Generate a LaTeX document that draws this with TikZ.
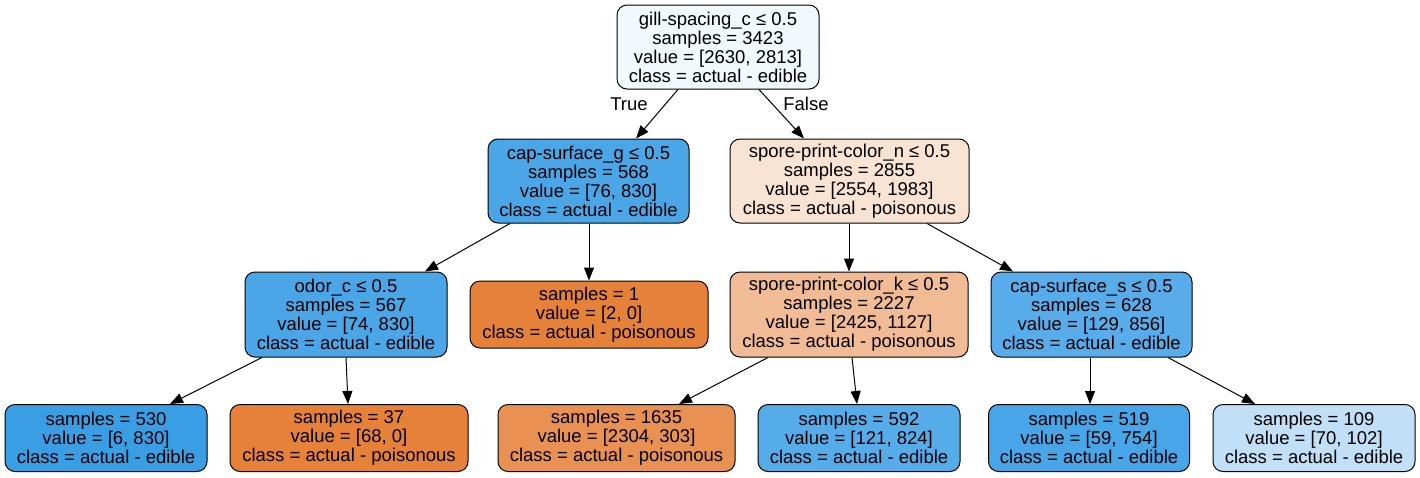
\documentclass[tikz,border=0pt]{standalone}
\usepackage{fontspec}
\setmainfont{Liberation Sans}
\usetikzlibrary{arrows.meta,calc}
\definecolor{cRoot}{RGB}{242,249,253}
\definecolor{cCapG}{RGB}{75,166,231}
\definecolor{cSporeN}{RGB}{249,227,211}
\definecolor{cOdor}{RGB}{75,166,231}
\definecolor{cOrange}{RGB}{229,129,57}
\definecolor{cSporeK}{RGB}{241,187,149}
\definecolor{cCapS}{RGB}{87,172,233}
\definecolor{cL530}{RGB}{58,158,229}
\definecolor{cL1635}{RGB}{232,145,83}
\definecolor{cL592}{RGB}{86,171,233}
\definecolor{cL519}{RGB}{72,165,231}
\definecolor{cL109}{RGB}{193,224,247}
\tikzset{
  treenode/.style={draw=black, line width=1pt, rounded corners=10pt, align=center,
    inner sep=0pt, font=\fontsize{18.5}{19}\selectfont},
  edge/.style={draw=black, line width=1pt, -{Triangle[length=13pt,width=10pt]}},
  lbl/.style={font=\fontsize{18.5}{19}\selectfont, inner sep=0pt}
}
\begin{document}
\begin{tikzpicture}[x=1pt,y=-1pt]
\useasboundingbox (0,0) rectangle (1420,477);
\node[treenode, fill=cRoot, minimum width=202pt, minimum height=84pt] (root) at (718,47)
  {gill-spacing\_c ≤ 0.5\\samples = 3423\\value = [2630, 2813]\\class = actual - edible};
\node[treenode, fill=cCapG, minimum width=201pt, minimum height=84pt] (capg) at (588.5,181)
  {cap-surface\_g ≤ 0.5\\samples = 568\\value = [76, 830]\\class = actual - edible};
\node[treenode, fill=cSporeN, minimum width=239pt, minimum height=84pt] (sporen) at (849.5,181)
  {spore-print-color\_n ≤ 0.5\\samples = 2855\\value = [2554, 1983]\\class = actual - poisonous};
\node[treenode, fill=cOdor, minimum width=202pt, minimum height=85pt] (odor) at (346,314.5)
  {odor\_c ≤ 0.5\\samples = 567\\value = [74, 830]\\class = actual - edible};
\node[treenode, fill=cOrange, minimum width=238pt, minimum height=67pt] (s1) at (589,314.5)
  {samples = 1\\value = [2, 0]\\class = actual - poisonous};
\node[treenode, fill=cSporeK, minimum width=238pt, minimum height=85pt] (sporek) at (849,314.5)
  {spore-print-color\_k ≤ 0.5\\samples = 2227\\value = [2425, 1127]\\class = actual - poisonous};
\node[treenode, fill=cCapS, minimum width=201pt, minimum height=85pt] (caps) at (1091.5,314.5)
  {cap-surface\_s ≤ 0.5\\samples = 628\\value = [129, 856]\\class = actual - edible};
\node[treenode, fill=cL530, minimum width=202pt, minimum height=67pt] (l530) at (106,438)
  {samples = 530\\value = [6, 830]\\class = actual - edible};
\node[treenode, fill=cOrange, minimum width=238pt, minimum height=67pt] (l37) at (349,438)
  {samples = 37\\value = [68, 0]\\class = actual - poisonous};
\node[treenode, fill=cL1635, minimum width=237pt, minimum height=67pt] (l1635) at (616.5,438)
  {samples = 1635\\value = [2304, 303]\\class = actual - poisonous};
\node[treenode, fill=cL592, minimum width=202pt, minimum height=67pt] (l592) at (859,438)
  {samples = 592\\value = [121, 824]\\class = actual - edible};
\node[treenode, fill=cL519, minimum width=201pt, minimum height=67pt] (l519) at (1089,438)
  {samples = 519\\value = [59, 754]\\class = actual - edible};
\node[treenode, fill=cL109, minimum width=202pt, minimum height=67pt] (l109) at (1314,438)
  {samples = 109\\value = [70, 102]\\class = actual - edible};
% edges
\draw[edge] ($(root.south)+(-40,0)$) -- ($(capg.north)+(47.5,0)$);
\draw[edge] ($(root.south)+(41,0)$) -- ($(sporen.north)+(-45.5,0)$);
\draw[edge] ($(capg.south)+(-78.5,0)$) -- ($(odor.north)+(79,0)$);
\draw[edge] ($(capg.south)+(0.5,0)$) -- ($(s1.north)+(0,0)$);
\draw[edge] ($(sporen.south)+(-0.5,0)$) -- ($(sporek.north)+(0,0)$);
\draw[edge] ($(sporen.south)+(77.5,0)$) -- ($(caps.north)+(-78.5,0)$);
\draw[edge] ($(odor.south)+(-84,0)$) -- ($(l530.north)+(64,0)$);
\draw[edge] ($(odor.south)+(0,0)$) -- ($(l37.north)+(-1,0)$);
\draw[edge] ($(sporek.south)+(-81,0)$) -- ($(l1635.north)+(62.5,0)$);
\draw[edge] ($(sporek.south)+(3,0)$) -- ($(l592.north)+(-2,0)$);
\draw[edge] ($(caps.south)+(-1.5,0)$) -- ($(l519.north)+(1,0)$);
\draw[edge] ($(caps.south)+(76.5,0)$) -- ($(l109.north)+(-59,0)$);
\node[lbl] (ltrue) at (629,104) {True};
\node[lbl] (lfalse) at (806,104) {False};
\end{tikzpicture}
\end{document}
